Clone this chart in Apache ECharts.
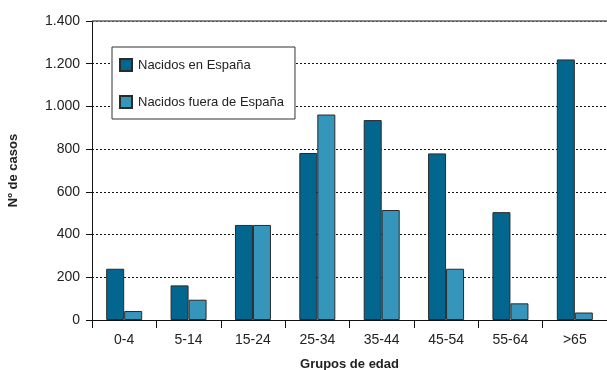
<!DOCTYPE html>
<html>
<head>
<meta charset="utf-8">
<script src="https://cdn.jsdelivr.net/npm/echarts@6/dist/echarts.min.js"></script>
<style>
  html, body { margin: 0; padding: 0; background: #fff; }
  #chart { width: 607px; height: 370px; }
</style>
</head>
<body>
<div id="chart"></div>
<script>
// Age groups and case counts by birthplace
const categories = ['0-4', '5-14', '15-24', '25-34', '35-44', '45-54', '55-64', '>65'];
const nacidosEspana = [240, 162, 445, 782, 936, 780, 505, 1220];
const nacidosFuera = [42, 95, 445, 962, 515, 240, 78, 35];
const yTicks = { min: 0, max: 1400, interval: 200 };

const FONT = '"Liberation Sans Narrow", "Liberation Sans", Arial, sans-serif';

const chart = echarts.init(document.getElementById('chart'));

function thousands(v) {
  return String(v).replace(/\B(?=(\d{3})+(?!\d))/g, '.');
}

chart.setOption({
  animation: false,
  textStyle: { fontFamily: FONT },
  grid: { left: 92, right: 0, top: 21, bottom: 50, containLabel: false, outerBoundsMode: 'none' },
  legend: {
    orient: 'vertical',
    left: 112,
    top: 47,
    padding: [11, 11, 10, 7],
    itemWidth: 12,
    itemHeight: 12,
    itemGap: 23,
    borderColor: '#333',
    borderWidth: 1,
    backgroundColor: '#fff',
    icon: 'rect',
    textStyle: { fontFamily: FONT, fontSize: 13, color: '#222', padding: [0, 0, 0, 1] },
    data: ['Nacidos en España', 'Nacidos fuera de España']
  },
  xAxis: {
    type: 'category',
    data: categories,
    name: 'Grupos de edad',
    nameLocation: 'middle',
    nameGap: 38,
    nameTextStyle: { fontFamily: FONT, fontSize: 13, fontWeight: 'bold', color: '#222' },
    axisLine: { lineStyle: { color: '#111', width: 1 } },
    axisTick: { show: true, length: 8, alignWithLabel: false, lineStyle: { color: '#111' } },
    axisLabel: { fontFamily: FONT, fontSize: 14, color: '#222', margin: 13 }
  },
  yAxis: {
    type: 'value',
    min: yTicks.min,
    max: yTicks.max,
    interval: yTicks.interval,
    name: 'Nº de casos',
    nameLocation: 'middle',
    nameGap: 72,
    nameTextStyle: { fontFamily: FONT, fontSize: 13, fontWeight: 'bold', color: '#222' },
    axisLine: { show: true, lineStyle: { color: '#111', width: 1 } },
    axisTick: { show: true, length: 6, lineStyle: { color: '#111' } },
    axisLabel: { fontFamily: FONT, fontSize: 14, color: '#222', margin: 12, formatter: thousands },
    splitLine: { show: true, lineStyle: { color: '#111', type: [2, 2], width: 1 } }
  },
  series: [
    {
      name: 'Nacidos en España',
      type: 'bar',
      data: nacidosEspana,
      barWidth: 18,
      barGap: '0%',
      itemStyle: { color: '#02668f', borderColor: '#2a2a2a', borderWidth: 1 },
      markLine: {
        silent: true,
        symbol: 'none',
        label: { show: false },
        lineStyle: { color: '#666', type: 'solid', width: 1.5 },
        data: [{ yAxis: yTicks.max }]
      }
    },
    {
      name: 'Nacidos fuera de España',
      type: 'bar',
      data: nacidosFuera,
      barWidth: 18,
      barGap: '0%',
      itemStyle: { color: '#3595bb', borderColor: '#2a2a2a', borderWidth: 1 }
    }
  ]
});
</script>
</body>
</html>
